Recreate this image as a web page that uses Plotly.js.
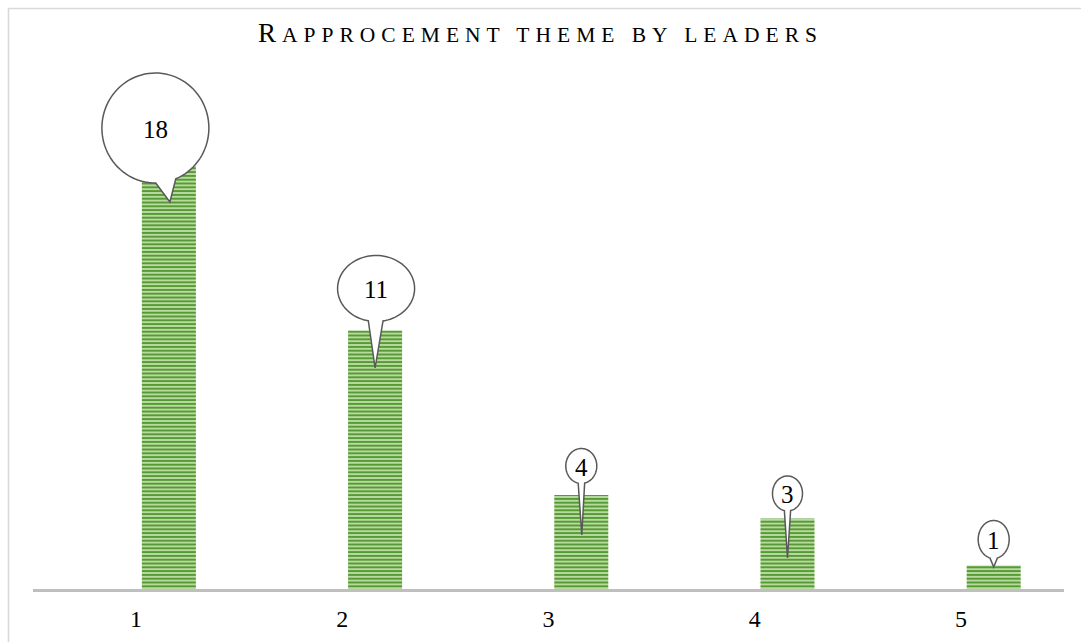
<!DOCTYPE html>
<html><head><meta charset="utf-8">
<script src="https://cdn.plot.ly/plotly-3.0.1.min.js"></script>
<style>html,body{margin:0;padding:0;background:#fff}#chart{width:1081px;height:642px}</style>
</head><body><div id="chart"></div>
<script>
// ---- data ----
const categories = [1, 2, 3, 4, 5];
const tickLabels = ['1', '2', '3', '4', '5'];
const values = [18, 11, 4, 3, 1];
const chartTitle = 'Rapprocement theme by leaders';

// ---- styles ----
const W = 1081, H = 642;
const M = {l: 33, r: 17, t: 60, b: 53};
const pxPerUnit = 23.5;
const yMax = (H - M.t - M.b) / pxPerUnit;
const barOffset = 0.028, barWidth = 0.262;
// callout bubble geometry in pixels relative to the bar-top centre (screen y downwards)
const callouts = [
  {cx: -13.5, cy: -38, rx: 53.5, ry: 55, tx: 1, ty: 36, d: 11},
  {cx: 1, cy: -42, rx: 38.5, ry: 33, tx: 0, ty: 37.5, d: 11},
  {cx: 0, cy: -29, rx: 15.5, ry: 17.5, tx: 0.5, ty: 40, d: 12},
  {cx: 0, cy: -25, rx: 15, ry: 17.5, tx: 0, ty: 39.5, d: 12},
  {cx: 0, cy: -26, rx: 15.5, ry: 19, tx: 0, ty: 1.5, d: 14}
];
const serif = 'Liberation Serif, Times New Roman, serif';

function bubblePath(c) {
  const phi = Math.atan2((c.ty - c.cy) / c.ry, (c.tx - c.cx) / c.rx);
  const d = c.d * Math.PI / 180;
  const a0 = phi + d, a1 = phi - d + 2 * Math.PI;
  const n = 90;
  let p = '';
  for (let i = 0; i <= n; i++) {
    const a = a0 + (a1 - a0) * i / n;
    const x = c.cx + c.rx * Math.cos(a);
    const y = c.cy + c.ry * Math.sin(a);
    p += (i === 0 ? 'M' : 'L') + x.toFixed(2) + ',' + (-y).toFixed(2);
  }
  p += 'L' + c.tx.toFixed(2) + ',' + (-c.ty).toFixed(2) + 'Z';
  return p;
}

const shapes = [];
const annotations = [];
categories.forEach((cat, i) => {
  const c = callouts[i];
  const xa = cat + barOffset + barWidth / 2;
  shapes.push({
    type: 'path', xref: 'x', yref: 'y', xsizemode: 'pixel', ysizemode: 'pixel',
    xanchor: xa, yanchor: values[i], path: bubblePath(c),
    fillcolor: '#ffffff', line: {color: '#595959', width: 1.5}, layer: 'above'
  });
  annotations.push({
    x: xa, y: values[i], xref: 'x', yref: 'y', text: String(values[i]), showarrow: false,
    xanchor: 'center', yanchor: 'middle', xshift: c.cx, yshift: -c.cy - 1,
    font: {family: serif, size: 25, color: '#000'}
  });
});

// outer chart border (top-left visible)
const pw = W - M.l - M.r, ph = H - M.t - M.b;
const px = v => (v - M.l) / pw, py = v => 1 - (v - M.t) / ph;
shapes.push({
  type: 'rect', xref: 'paper', yref: 'paper',
  x0: px(8.5), x1: px(W + 20), y0: py(H + 20), y1: py(8.5),
  line: {color: '#d9d9d9', width: 1.6}, fillcolor: 'rgba(0,0,0,0)', layer: 'below'
});

const up = chartTitle.toUpperCase();
const titleText = '<span style="font-size:27px;letter-spacing:6px">' + up[0] + '</span>' +
  '<span style="font-size:21.5px;letter-spacing:6px">' + up.slice(1) + '</span>';

const trace = {
  type: 'bar', x: categories, y: values,
  offset: barOffset, width: barWidth,
  marker: {
    color: '#66a844',
    line: {width: 0},
    pattern: {shape: '-', size: 3.8, solidity: 0.5, fgcolor: '#559a34', bgcolor: '#b8da9f', fillmode: 'replace'}
  },
  hoverinfo: 'none'
};

const layout = {
  width: W, height: H,
  margin: M,
  paper_bgcolor: '#ffffff', plot_bgcolor: '#ffffff',
  showlegend: false,
  title: {
    text: titleText, x: 0.5, xref: 'container', xanchor: 'center',
    y: 1 - 34 / H, yref: 'container', yanchor: 'middle',
    font: {family: serif, size: 22, color: '#000'}
  },
  xaxis: {
    range: [0.5, 5.5], tickvals: categories, ticktext: tickLabels,
    showgrid: false, zeroline: false, showline: true, linecolor: '#bfbfbf', linewidth: 3,
    ticks: '', ticklabelstandoff: 6, tickfont: {family: serif, size: 24, color: '#000'}, fixedrange: true
  },
  yaxis: {range: [0, yMax], visible: false, showgrid: false, zeroline: false, fixedrange: true},
  shapes: shapes,
  annotations: annotations
};

Plotly.newPlot('chart', [trace], layout, {displayModeBar: false, staticPlot: true});
</script>
</body></html>
